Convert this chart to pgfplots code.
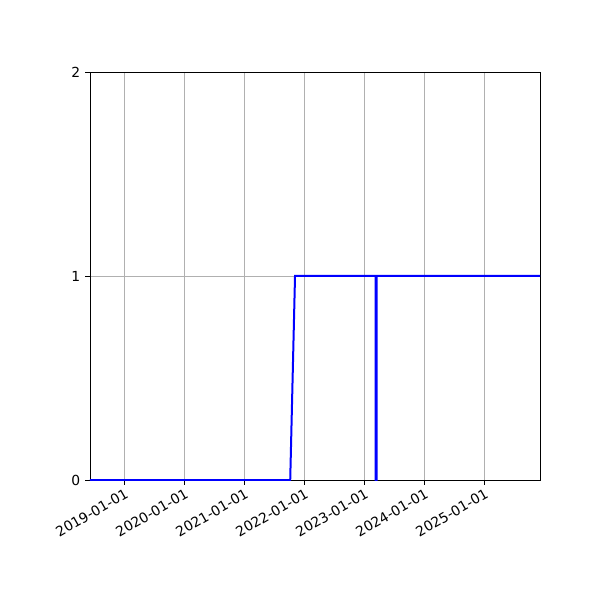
\documentclass[border=0pt]{standalone}
\usepackage{pgfplots}
\pgfplotsset{compat=1.18}
\usepackage{fontspec}
\setmainfont{DejaVu Sans}
\begin{document}
\fontsize{10.4}{12}\selectfont
\begin{tikzpicture}
\path (-67.5pt,-90pt) rectangle (382.5pt,360pt);
\begin{axis}[
  at={(0,0)}, anchor=origin,
  scale only axis, width=337.5pt, height=306pt,
  xmin=2018.433, xmax=2025.933, ymin=0, ymax=2,
  xtick={2019,2020,2021,2022,2023,2024,2025},
  xticklabels={2019-01-01,2020-01-01,2021-01-01,2022-01-01,2023-01-01,2024-01-01,2025-01-01},
  x tick label style={rotate=30, anchor=north east, inner sep=1pt, yshift=-1pt},
  ytick={0,1,2},
  /pgf/number format/assume math mode=true,
  tick align=outside, tick pos=left,
  major tick length=3.6pt,
  tick style={black, line width=0.6pt},
  grid=major,
  grid style={color={rgb,255:red,176;green,176;blue,176}, line width=0.6pt},
  axis line style={black, line width=0.6pt},
  axis on top=false,
  clip=true,
]
\addplot[blue, line width=1.5pt, line join=miter] coordinates {
(2018.433,0) (2021.77,0) (2021.85,1) (2023.195,1) (2023.195,0) (2023.21,0) (2023.21,1) (2025.933,1)
};
\end{axis}
\end{tikzpicture}
\end{document}
